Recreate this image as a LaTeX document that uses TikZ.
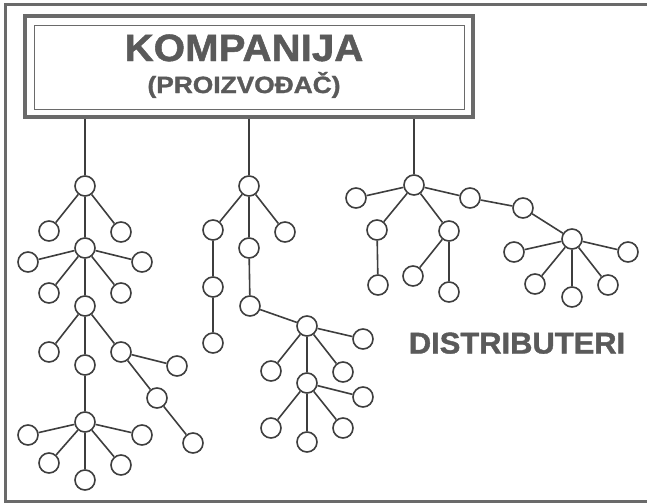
\documentclass[tikz,border=0pt]{standalone}
\usepackage{fontspec}
\setmainfont{Liberation Sans}
\newfontfamily\heavyfont{Liberation Sans Bold}[FakeBold=1.3]
\usepackage{graphicx}
\usetikzlibrary{calc}
\usetikzlibrary{positioning}

\definecolor{linegray}{HTML}{3E3E3E}
\definecolor{framegray}{HTML}{6A6A6A}
\definecolor{textgray}{HTML}{5A5A5A}

\tikzset{
	dot/.style={circle, draw=linegray, line width=1.6pt, minimum size=20pt, inner sep=0pt},
	link/.style={draw=linegray, line width=1.6pt},
	label/.style={text=textgray, anchor=base, inner sep=0pt},
}

\begin{document}
\begin{tikzpicture}[x=1pt, y=-1pt]
		\useasboundingbox (0,0) rectangle (647,503);

		% frame and title box
		\draw[framegray, line width=3pt] (652,5) -- (5,5) -- (5,501) -- (652,501);
		\node[draw=framegray, line width=4pt, minimum width=448pt, minimum height=101pt] (box) at (249,66.5) {};
		\draw[framegray, line width=0.9pt] ($(box.north west)+(11,11)$) rectangle ($(box.south east)+(-11,-10)$);
		\node[label, font=\heavyfont\fontsize{38}{38}\selectfont] (kompanija) at (244,61) {\scalebox{1.06}[1]{KOMPANIJA}};
		\node[label, font=\heavyfont\fontsize{23.5}{23.5}\selectfont] (proizvodjac) at (244,93) {\scalebox{1.12}[1]{(PROIZVOĐAČ)}};
		\node[label, font=\heavyfont\fontsize{30}{30}\selectfont] (distributeri) at (517,353.5) {\scalebox{1.03}[1]{DISTRIBUTERI}};

		% left tree
		\node[dot] (l1) at (85,186) {};
		\node[dot] (l1a) at (49,231) {};
		\node[dot] (l1b) at (121,232) {};
		\node[dot] (l2) at (85,248) {};
		\node[dot] (l2a) at (28,262) {};
		\node[dot] (l2b) at (142,262) {};
		\node[dot] (l2c) at (49,293) {};
		\node[dot] (l2d) at (121,293) {};
		\node[dot] (l3) at (85,306) {};
		\node[dot] (l3a) at (49,352) {};
		\node[dot] (l3b) at (85,365) {};
		\node[dot] (l3c) at (121,352) {};
		\node[dot] (l3d) at (177,366) {};
		\node[dot] (l3e) at (157,398) {};
		\node[dot] (l3f) at (193,443) {};
		\node[dot] (l4) at (85,422) {};
		\node[dot] (l4a) at (28,435) {};
		\node[dot] (l4b) at (142,435) {};
		\node[dot] (l4c) at (49,463) {};
		\node[dot] (l4d) at (85,480) {};
		\node[dot] (l4e) at (121,465) {};

		\draw[link] (l1) -- (l1 |- box.south);
		\draw[link] (l1) -- (l1a) (l1) -- (l1b) (l1) -- (l2);
		\draw[link] (l2) -- (l2a) (l2) -- (l2b) (l2) -- (l2c) (l2) -- (l2d) (l2) -- (l3);
		\draw[link] (l3) -- (l3a) (l3) -- (l3b) (l3) -- (l3c);
		\draw[link] (l3c) -- (l3d) (l3c) -- (l3e) (l3e) -- (l3f) (l3b) -- (l4);
		\draw[link] (l4) -- (l4a) (l4) -- (l4b) (l4) -- (l4c) (l4) -- (l4d) (l4) -- (l4e);

		% middle tree
		\node[dot] (m1) at (249,186) {};
		\node[dot] (m1a) at (213,230) {};
		\node[dot] (m1b) at (249,248) {};
		\node[dot] (m1c) at (285,232) {};
		\node[dot] (m1d) at (213,287) {};
		\node[dot] (m1e) at (213,343) {};
		\node[dot] (m1f) at (250,306) {};
		\node[dot] (m2) at (307,326) {};
		\node[dot] (m2a) at (271,371) {};
		\node[dot] (m2b) at (343,372) {};
		\node[dot] (m2c) at (363,339) {};
		\node[dot] (m3) at (307,383) {};
		\node[dot] (m3a) at (363,397) {};
		\node[dot] (m3b) at (271,428) {};
		\node[dot] (m3c) at (307,442) {};
		\node[dot] (m3d) at (343,428) {};

		\draw[link] (m1) -- (m1 |- box.south);
		\draw[link] (m1) -- (m1a) (m1) -- (m1b) (m1) -- (m1c);
		\draw[link] (m1a) -- (m1d) (m1d) -- (m1e) (m1b) -- (m1f) (m1f) -- (m2);
		\draw[link] (m2) -- (m2a) (m2) -- (m2b) (m2) -- (m2c) (m2) -- (m3);
		\draw[link] (m3) -- (m3a) (m3) -- (m3b) (m3) -- (m3c) (m3) -- (m3d);

		% right tree
		\node[dot] (r1) at (414,185) {};
		\node[dot] (r1a) at (356,198) {};
		\node[dot] (r1b) at (377,230) {};
		\node[dot] (r1c) at (449,231) {};
		\node[dot] (r1d) at (470,198) {};
		\node[dot] (r1e) at (378,285) {};
		\node[dot] (r1f) at (413,276) {};
		\node[dot] (r1g) at (449,292) {};
		\node[dot] (r1h) at (523,208) {};
		\node[dot] (r2) at (572,239) {};
		\node[dot] (r2a) at (514,252) {};
		\node[dot] (r2b) at (628,252) {};
		\node[dot] (r2c) at (535,284) {};
		\node[dot] (r2d) at (572,297) {};
		\node[dot] (r2e) at (608,285) {};

		\draw[link] (r1) -- (r1 |- box.south);
		\draw[link] (r1) -- (r1a) (r1) -- (r1b) (r1) -- (r1c) (r1) -- (r1d);
		\draw[link] (r1b) -- (r1e) (r1c) -- (r1f) (r1c) -- (r1g);
		\draw[link] (r1d) -- (r1h) (r1h) -- (r2);
		\draw[link] (r2) -- (r2a) (r2) -- (r2b) (r2) -- (r2c) (r2) -- (r2d) (r2) -- (r2e);
\end{tikzpicture}
\end{document}
